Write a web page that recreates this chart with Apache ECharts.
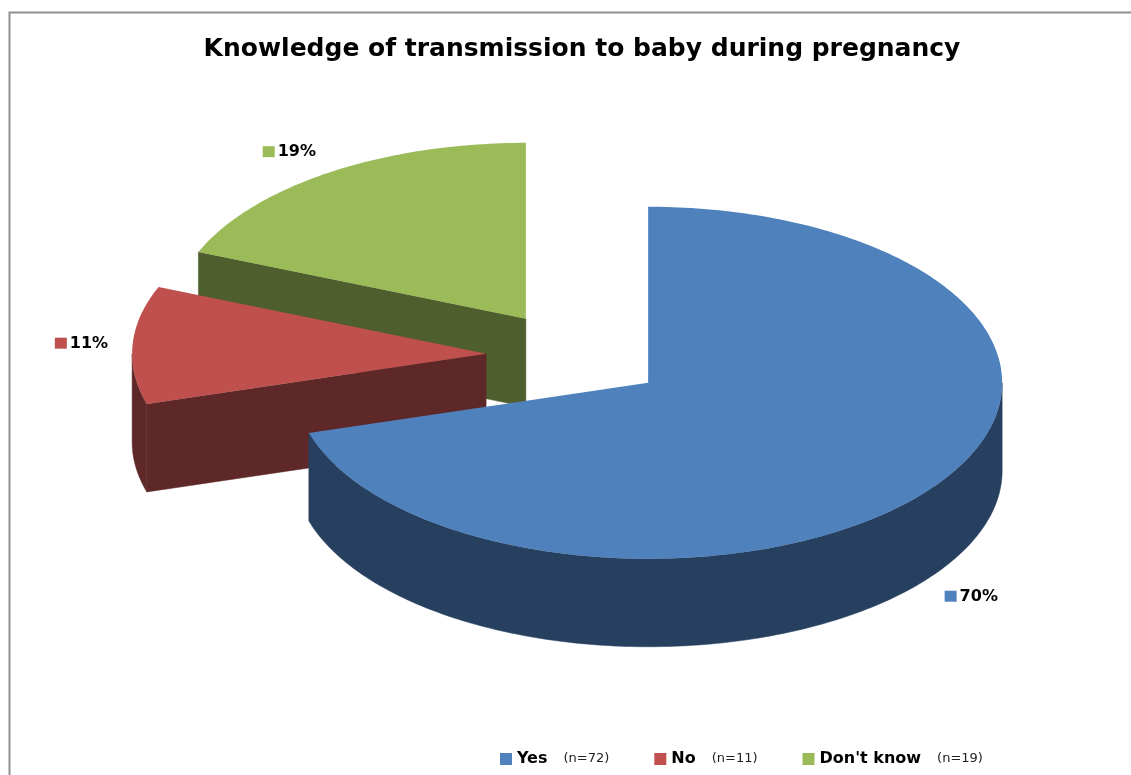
<!DOCTYPE html>
<html><head><meta charset="utf-8">
<script src="https://cdn.jsdelivr.net/npm/echarts@6/dist/echarts.min.js"></script>
<style>html,body{margin:0;padding:0;background:#fff}#c{width:1131px;height:775px}</style>
</head><body><div id="c"></div>
<script>
// ---- data ----
const categories = ['Yes', 'No', "Don't know"];
const percentValues = [70.4, 10.8, 18.8];
const respondentCounts = [72, 11, 19];
const titleText = 'Knowledge of transmission to baby during pregnancy';

// ---- style ----
const topColors = ['#4F81BD', '#C0504D', '#9BBB59'];
const sideColors = ['#27405F', '#5F2828', '#4F5E2D'];
const FONT = '"DejaVu Sans", "Liberation Sans", sans-serif';
const G = {cx: 576, cy: 356, rx: 354, ry: 176, depth: 88, explode: 90, labelR: 1.14, backLabelExtra: 0.07, frontExtra: 6};

const total = percentValues.reduce((a, b) => a + b, 0);
const rad = d => d * Math.PI / 180;

function sliceAngles(i) {
  let startA = 0;
  for (let k = 0; k < i; k++) startA += percentValues[k] / total * 360;
  return {startA, endA: startA + percentValues[i] / total * 360};
}
function sliceCenter(i) {
  const {startA, endA} = sliceAngles(i);
  const midT = rad(90 - (startA + endA) / 2);
  return {midT, c: [G.cx + G.explode * Math.cos(midT), G.cy - G.explode * (G.ry / G.rx) * Math.sin(midT)]};
}
function pt(c, a, dy) {
  const t = rad(90 - a);
  return [c[0] + G.rx * Math.cos(t), c[1] - G.ry * Math.sin(t) + (dy || 0)];
}

function renderSlice(i) {
  const {startA, endA} = sliceAngles(i);
  const {midT, c} = sliceCenter(i);
  const top = topColors[i], side = sideColors[i];
  const children = [];
  const arc = (a0, a1, dy) => {
    const pts = [];
    const n = Math.max(2, Math.ceil(Math.abs(a1 - a0)));
    for (let k = 0; k <= n; k++) pts.push(pt(c, a0 + (a1 - a0) * k / n, dy));
    return pts;
  };
  const face = a => {
    const p = pt(c, a);
    return {type: 'polygon', shape: {points: [c, p, [p[0], p[1] + G.depth], [c[0], c[1] + G.depth]]},
            style: {fill: side, stroke: side, lineWidth: 0.5}};
  };
  const tS = rad(90 - startA), tE = rad(90 - endA);
  if (Math.cos(tS) < -1e-6) children.push(face(startA));
  if (Math.cos(tE) > 1e-6) children.push(face(endA));
  const w0 = Math.max(startA, 90), w1 = Math.min(endA, 270);
  if (w1 > w0) {
    children.push({type: 'polygon', shape: {points: arc(w0, w1, 0).concat(arc(w1, w0, G.depth))},
                   style: {fill: side, stroke: side, lineWidth: 0.5}});
  }
  children.push({type: 'polygon', shape: {points: [c].concat(arc(startA, endA, 0))}, style: {fill: top}});
  // data label
  const s = Math.sin(midT);
  const front = s < 0;
  const rX = G.labelR + (front ? 0 : G.backLabelExtra * s);
  const lx = c[0] + rX * G.rx * Math.cos(midT);
  const ly = c[1] - G.labelR * G.ry * s + (front ? G.depth + G.frontExtra : 0);
  const pct = Math.round(percentValues[i] / total * 100) + '%';
  children.push({type: 'rect', shape: {x: lx - 27, y: ly - 6, width: 12, height: 11}, style: {fill: top}});
  children.push({type: 'text', x: lx - 12, y: ly, style: {text: pct, fill: '#000', font: 'bold 16px ' + FONT, align: 'left', verticalAlign: 'middle'}});
  return {type: 'group', children};
}

const centersY = categories.map((_, i) => sliceCenter(i).c[1]);
const zOf = i => 2 + centersY.filter(y => y < centersY[i]).length;

const chart = echarts.init(document.getElementById('c'));
chart.setOption({
  animation: false,
  backgroundColor: '#fff',
  title: {
    text: titleText, left: 577, top: 32, textAlign: 'center',
    textStyle: {fontSize: 25, fontWeight: 'bold', fontFamily: FONT, color: '#000'}
  },
  legend: {
    left: 500, top: 751, padding: 0, icon: 'rect', itemWidth: 12, itemHeight: 12, itemGap: 45,
    selectedMode: false,
    data: categories,
    formatter: name => {
      const i = categories.indexOf(name);
      return '{b|' + name + '}{n|(n=' + respondentCounts[i] + ')}';
    },
    textStyle: {
      rich: {
        b: {fontSize: 16, fontWeight: 'bold', fontFamily: FONT, color: '#000', padding: [0, 16, 0, 0]},
        n: {fontSize: 13, fontFamily: FONT, color: '#222'}
      }
    }
  },
  graphic: [{
    type: 'rect', shape: {x: 9.5, y: 12.5, width: 1300, height: 900},
    style: {fill: 'none', stroke: '#8f8f8f', lineWidth: 2}, silent: true, z: 0
  }],
  series: categories.map((name, i) => ({
    type: 'custom', name, coordinateSystem: 'none', silent: true, z: zOf(i),
    itemStyle: {color: topColors[i]},
    data: [percentValues[i]],
    renderItem: () => renderSlice(i)
  }))
});
</script></body></html>
